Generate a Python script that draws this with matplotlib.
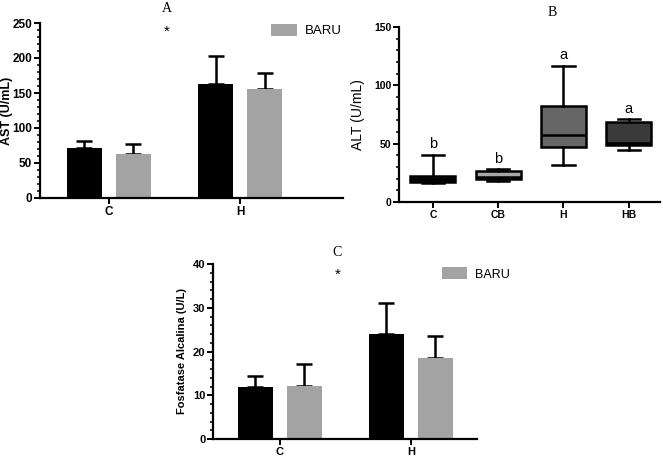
import matplotlib
matplotlib.use("Agg")
import matplotlib.pyplot as plt
import numpy as np

# ---------------- data ----------------
groups = ["C", "H"]
ast_ctrl = [72, 163]
ast_ctrl_err = [10, 40]
ast_baru = [63, 155]
ast_baru_err = [14, 24]

alt_labels = ["C", "CB", "H", "HB"]
alt_low = [16.5, 18.3, 31.7, 45]
alt_q1 = [17.5, 19.5, 47.4, 48.5]
alt_med = [20, 21.5, 57.4, 50.5]
alt_q3 = [22.5, 27, 82.3, 68.8]
alt_high = [40.3, 28, 116.6, 70.9]
alt_letters = ["b", "b", "a", "a"]

fa_ctrl = [12, 24]
fa_ctrl_err = [2.5, 7]
fa_baru = [12.2, 18.5]
fa_baru_err = [5, 5]

legend_label = "BARU"

W, H = 663, 466
fig = plt.figure(figsize=(W / 100, H / 100), dpi=100)

def ax_px(l, r, t, b):
    return fig.add_axes([l / W, 1 - b / H, (r - l) / W, (b - t) / H])

SANS = "Liberation Sans"
SERIF = "Liberation Serif"
BLACK = "#000000"
GRAY = "#a3a3a3"

def style(ax, fs):
    for s in ["top", "right"]:
        ax.spines[s].set_visible(False)
    for s in ["left", "bottom"]:
        ax.spines[s].set_linewidth(1.6)
    ax.tick_params(axis="both", which="major", width=1.4, length=4, labelsize=fs, pad=1.5)
    ax.tick_params(axis="y", which="minor", width=1.1, length=2.5)
    for lab in ax.get_xticklabels() + ax.get_yticklabels():
        lab.set_fontfamily(SANS)
        lab.set_fontweight("bold")

def bar_panel(ax, ctrl, ctrl_err, baru, baru_err, ymax, major, minor, ylabel, fs, lfs):
    x = np.arange(len(groups))
    w = 0.266
    off = 0.187
    ax.bar(x - off, ctrl, w, color=BLACK, zorder=2)
    ax.bar(x + off, baru, w, color=GRAY, zorder=2, label=legend_label)
    ax.errorbar(x - off, ctrl, yerr=[np.zeros(len(ctrl)), ctrl_err], fmt="none",
                ecolor=BLACK, elinewidth=1.8, capsize=6, capthick=1.8, zorder=1)
    ax.errorbar(x + off, baru, yerr=[np.zeros(len(baru)), baru_err], fmt="none",
                ecolor=BLACK, elinewidth=1.8, capsize=6, capthick=1.8, zorder=1)
    ax.set_ylim(0, ymax)
    ax.set_yticks(np.arange(0, ymax + 0.1, major))
    ax.set_yticks(np.arange(0, ymax + 0.1, minor), minor=True)
    ax.set_xticks(x)
    ax.set_xticklabels(groups)
    ax.set_ylabel(ylabel, fontfamily=SANS, fontweight="bold", fontsize=lfs)
    style(ax, fs)

# ---------------- Panel A ----------------
axA = ax_px(40, 343, 23, 198)
bar_panel(axA, ast_ctrl, ast_ctrl_err, ast_baru, ast_baru_err, 250, 50, 10,
          "AST (U/mL)", 8.5, 9)
axA.yaxis.set_label_coords((13 - 40) / 303, 0.5)
axA.set_xlim(-0.523, 1.78)
fig.text(167 / W, 1 - 9 / H, "A", fontfamily=SERIF, fontsize=10, ha="center", va="center")
fig.text(167 / W, 1 - 32 / H, "*", fontfamily=SANS, fontsize=11, ha="center", va="center")
axA.legend(loc="upper left", bbox_to_anchor=(264 / W, 1 - 17 / H), bbox_transform=fig.transFigure,
           frameon=False, prop={"family": SANS, "size": 9.5}, handlelength=2.0, handleheight=1.1,
           handletextpad=0.6, borderpad=0)

# ---------------- Panel B ----------------
axB = ax_px(399, 660, 27, 202)
stats = []
for i in range(len(alt_labels)):
    stats.append(dict(whislo=alt_low[i], q1=alt_q1[i], med=alt_med[i], q3=alt_q3[i],
                      whishi=alt_high[i], fliers=[], label=alt_labels[i]))
box_colors = ["#111111", "#a8a8a8", "#666666", "#3a3a3a"]
bp = axB.bxp(stats, positions=np.arange(len(alt_labels)), widths=0.69, patch_artist=True,
             showfliers=False, capwidths=0.34,
             boxprops=dict(linewidth=1.8, edgecolor=BLACK),
             whiskerprops=dict(linewidth=1.8, color=BLACK),
             capprops=dict(linewidth=1.8, color=BLACK),
             medianprops=dict(linewidth=1.8, color=BLACK))
for patch, c in zip(bp["boxes"], box_colors):
    patch.set_facecolor(c)
for i, t in enumerate(alt_letters):
    axB.text(i, alt_high[i] + 3, t, ha="center", va="bottom", fontfamily=SANS, fontsize=10.5)
axB.set_xlim(-0.52, 3.48)
axB.set_ylim(0, 150)
axB.set_yticks(np.arange(0, 151, 50))
axB.set_yticks(np.arange(0, 151, 10), minor=True)
axB.set_xticks(np.arange(len(alt_labels)))
axB.set_xticklabels(alt_labels)
axB.set_ylabel("ALT (U/mL)", fontfamily=SANS, fontsize=10)
axB.yaxis.set_label_coords((365 - 399) / 261, 0.5)
style(axB, 7.5)
fig.text(552 / W, 1 - 13 / H, "B", fontfamily=SERIF, fontsize=10, ha="center", va="center")

# ---------------- Panel C ----------------
axC = ax_px(213, 477, 264, 439)
bar_panel(axC, fa_ctrl, fa_ctrl_err, fa_baru, fa_baru_err, 40, 10, 2,
          "Fosfatase Alcalina (U/L)", 8, 8)
axC.yaxis.set_label_coords((187 - 213) / 264, 0.5)
axC.set_xlim(-0.511, 1.504)
fig.text(337 / W, 1 - 252 / H, "C", fontfamily=SERIF, fontsize=10, ha="center", va="center")
fig.text(338 / W, 1 - 275 / H, "*", fontfamily=SANS, fontsize=11, ha="center", va="center")
axC.legend(loc="upper left", bbox_to_anchor=(436 / W, 1 - 261 / H), bbox_transform=fig.transFigure,
           frameon=False, prop={"family": SANS, "size": 9}, handlelength=2.0, handleheight=1.1,
           handletextpad=0.6, borderpad=0)

fig.savefig("out.png", dpi=100, facecolor="white")
